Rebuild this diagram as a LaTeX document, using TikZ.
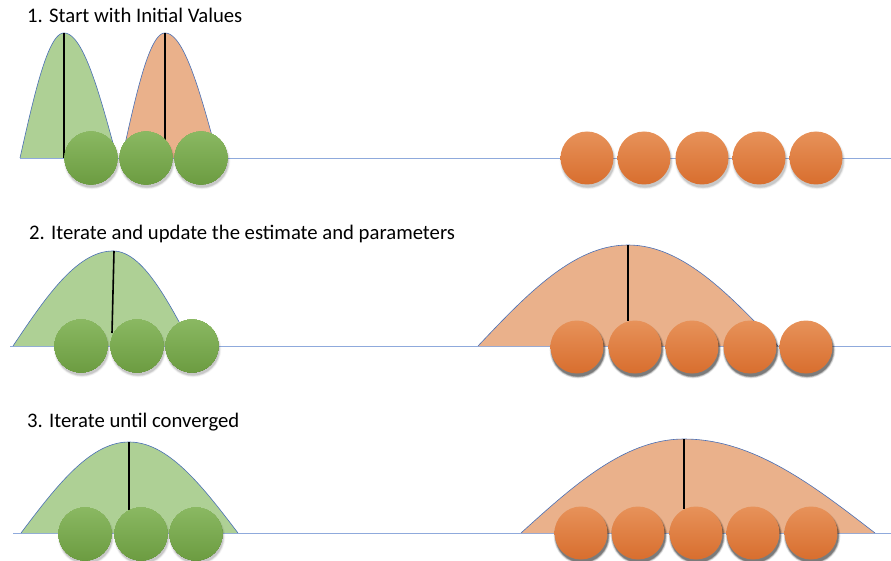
\documentclass[tikz,border=0pt]{standalone}
\usepackage{fontspec}
\setmainfont{Carlito}

\definecolor{lineblue}{HTML}{8FAADC}
\definecolor{edgeblue}{HTML}{4A6FB5}
\definecolor{gfill}{HTML}{AED095}
\definecolor{ofill}{HTML}{EAB18B}
\definecolor{gtop}{HTML}{8AB862}
\definecolor{gbot}{HTML}{6C9C41}
\definecolor{otop}{HTML}{E7925A}
\definecolor{obot}{HTML}{D86E2E}

\tikzset{
  axisline/.style={draw=lineblue, line width=0.9pt},
  bellrim/.style={draw=edgeblue, line width=0.6pt},
  peakline/.style={draw=black, line width=1.6pt},
  ballbase/.style={circle, minimum size=53pt, inner sep=0pt, draw=none},
  gball/.style={ballbase, top color=gtop, bottom color=gbot},
  oball/.style={ballbase, top color=otop, bottom color=obot},
  steptitle/.style={anchor=base west, inner sep=0pt, font=\fontsize{20.7}{24}\selectfont}
}

% bell-shaped density: fill colour, left foot, peak x, right foot, top y, base y
\newcommand\bellshape[6]{%
  \fill[#1] plot[domain=#2:#3, samples=40] (\x,{#6-(#6-#5)*sin(90/(#3-#2)*(\x-#2))})
        -- plot[domain=#3:#4, samples=40] (\x,{#6-(#6-#5)*sin(90/(#4-#3)*(#4-\x))}) -- cycle;
  \draw[bellrim] plot[domain=#2:#3, samples=40] (\x,{#6-(#6-#5)*sin(90/(#3-#2)*(\x-#2))})
        -- plot[domain=#3:#4, samples=40] (\x,{#6-(#6-#5)*sin(90/(#4-#3)*(#4-\x))});
}

% soft shadow below a data point
\newcommand\ballshadow[2]{%
  \foreach \rr/\oo in {28.3/0.035, 27.6/0.05, 27/0.07, 26.5/0.08}
    \fill[black, opacity=\oo] (#1+1, #2+3) circle[radius=\rr pt];
}

\begin{document}
\begin{tikzpicture}[x=1pt, y=-1pt]
  \useasboundingbox (0,0) rectangle (891,561);

  % ---------- step 1 ----------
  \node[steptitle] (t1) at (27,23) {1. Start with Initial Values};
  \draw[axisline] (20,158) -- (891,158);
  \bellshape{gfill}{20}{64}{117}{33}{158}
  \bellshape{ofill}{122}{165}{218}{33}{158}
  \draw[peakline] (64,33) -- (64,158);
  \draw[peakline] (165,33) -- (165,140);
  \foreach \px in {91,146,201,587,644,702,759,816} \ballshadow{\px}{158}
  \foreach \px [count=\i] in {91,146,201}
    \node[gball] (ga\i) at (\px,158) {};
  \foreach \px [count=\i] in {587,644,702,759,816}
    \node[oball] (oa\i) at (\px,158) {};

  % ---------- step 2 ----------
  \node[steptitle] (t2) at (29,240) {2. Iterate and update the estimate and parameters};
  \draw[axisline] (10,346) -- (891,346);
  \bellshape{gfill}{13}{113}{192}{251}{346}
  \bellshape{ofill}{478}{628}{778}{245}{346}
  \draw[peakline] (114,251) -- (112,333);
  \draw[peakline] (628,245) -- (628,321);
  \foreach \px in {81,137,192} \ballshadow{\px}{346}
  \foreach \px in {577,635,692,750,806} \ballshadow{\px}{347}
  \foreach \px [count=\i] in {81,137,192}
    \node[gball] (gb\i) at (\px,346) {};
  \foreach \px [count=\i] in {577,635,692,750,806}
    \node[oball] (ob\i) at (\px,347) {};

  % ---------- step 3 ----------
  \node[steptitle] (t3) at (27,427) {3. Iterate until converged};
  \draw[axisline] (13,533) -- (891,533);
  \bellshape{gfill}{21}{129}{238}{442}{533}
  \bellshape{ofill}{521}{684}{875}{439}{533}
  \draw[peakline] (129,442) -- (129,510);
  \draw[peakline] (684,439) -- (684,509);
  \foreach \px in {85,141,196} \ballshadow{\px}{534}
  \foreach \px in {581,638,696,753,811} \ballshadow{\px}{533}
  \foreach \px [count=\i] in {85,141,196}
    \node[gball] (gc\i) at (\px,534) {};
  \foreach \px [count=\i] in {581,638,696,753,811}
    \node[oball] (oc\i) at (\px,533) {};
\end{tikzpicture}
\end{document}
